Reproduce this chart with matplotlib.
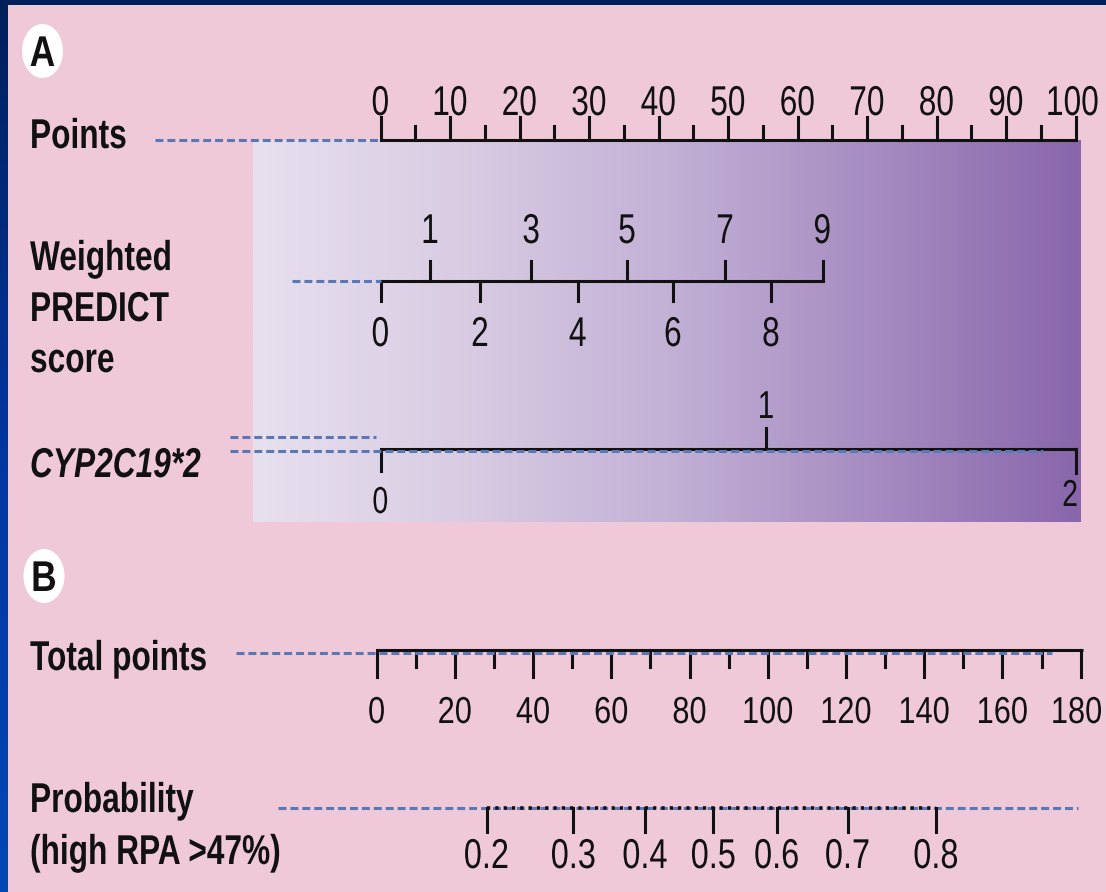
import numpy as np
import matplotlib
matplotlib.use("Agg")
import matplotlib.pyplot as plt
from matplotlib.patches import Ellipse, Rectangle
from matplotlib.colors import LinearSegmentedColormap
from matplotlib.patheffects import AbstractPathEffect
from matplotlib.transforms import Affine2D

# ---- nomogram data ----
points_ticks = list(range(0, 101, 10))
points_minor = list(range(5, 100, 10))

predict_scores = [0, 1, 2, 3, 4, 5, 6, 7, 8, 9]
predict_points = [0.0, 7.15, 14.35, 21.7, 28.4, 35.5, 42.1, 49.6, 56.2, 63.6]

cyp_values = [0, 1, 2]
cyp_points = [0.0, 55.5, 100.0]

total_ticks = list(range(0, 181, 20))
total_minor = list(range(10, 180, 20))

prob_values = [0.2, 0.3, 0.4, 0.5, 0.6, 0.7, 0.8]
prob_total_points = [28.1, 50.3, 68.6, 86.1, 102.3, 120.4, 143.0]

# ---- layout (canvas pixel space) ----
W, H = 1106, 892
PX0, PX1 = 380.5, 1075.5      # Points scale 0..100
TX0, TX1 = 376.7, 1080.7      # Total points scale 0..180


def px(p):
    return PX0 + np.asarray(p, dtype=float) * (PX1 - PX0) / 100.0


def tx(t):
    return TX0 + np.asarray(t, dtype=float) * (TX1 - TX0) / 180.0


PINK = "#EFC9D7"
BLUE = "#5B78B6"
INK = "#111111"
FAMILY = ["Liberation Sans", "DejaVu Sans"]
LW = 2.2
DASH = (0, (2.6, 1.3))


class Condense(AbstractPathEffect):
    """Draw glyphs narrowed horizontally, keeping the chosen anchor fixed."""

    def __init__(self, sx=0.76, anchor="center"):
        super().__init__()
        self.sx = sx
        self.anchor = anchor

    def draw_path(self, renderer, gc, tpath, affine, rgbFace=None):
        v = tpath.vertices
        if len(v) and self.anchor != "left":
            lo, hi = v[:, 0].min(), v[:, 0].max()
            pivot = hi if self.anchor == "right" else 0.5 * (lo + hi)
        else:
            pivot = 0.0
        squeeze = Affine2D().translate(-pivot, 0).scale(self.sx, 1).translate(pivot, 0)
        renderer.draw_path(gc, tpath, squeeze + affine, rgbFace)


fig = plt.figure(figsize=(W / 100, H / 100), dpi=100)
fig.patch.set_facecolor(PINK)
ax = fig.add_axes([0, 0, 1, 1])
ax.set_xlim(0, W)
ax.set_ylim(H, 0)
ax.axis("off")

# frame: dark band on top, blue gradient band on the left
ax.add_patch(Rectangle((0, 0), W, 5, color="#00205B", lw=0, zorder=1))
left_band = np.linspace(0, 1, 256).reshape(-1, 1)
band_cmap = LinearSegmentedColormap.from_list("band", ["#00205B", "#0036A0", "#0048B5"])
ax.imshow(left_band, cmap=band_cmap, extent=(0, 8, H, 0), aspect="auto", zorder=1)

# gradient panel behind the predictor scales
grad = np.linspace(0, 1, 512).reshape(1, -1)
panel_cmap = LinearSegmentedColormap.from_list(
    "panel", ["#E7E0EE", "#D9CCE3", "#C3B1D6", "#A68CC1", "#8966AB"])
ax.imshow(grad, cmap=panel_cmap, extent=(253, 1081, 522, 140), aspect="auto", zorder=1)


def panel_badge(cx, cy, letter):
    ax.add_patch(Ellipse((cx, cy), 41, 54, facecolor="white", edgecolor="none", zorder=2))
    ax.text(cx, cy + 15, letter, fontsize=31, fontweight="bold", family=FAMILY,
            ha="center", va="baseline", color=INK, zorder=3,
            path_effects=[Condense(0.82, "center")])


panel_badge(42.5, 51, "A")
panel_badge(44, 576, "B")


def row_label(x, y, s, **kw):
    ax.text(x, y, s, fontsize=30, fontweight="bold", family=FAMILY,
            ha="left", va="baseline", color=INK, zorder=3,
            path_effects=[Condense(0.76, "left")], **kw)


def tick_label(x, y, s, size=30, ha="center", sx=0.76):
    ax.text(x, y, s, fontsize=size, family=FAMILY, ha=ha, va="baseline",
            color=INK, zorder=3, path_effects=[Condense(sx, ha)])


def seg(x0, x1, y, **kw):
    ax.plot([x0, x1], [y, y], solid_capstyle="butt", **kw)


# ---- Points ----
y = 140
row_label(30, 148, "Points")
seg(155, PX0, y, color=BLUE, lw=LW, ls=DASH, zorder=4)
seg(px(0), px(100) + 1, y, color=INK, lw=LW, zorder=3)
for v in points_ticks:
    ax.plot([px(v)] * 2, [y, y - 23], color=INK, lw=LW, zorder=3)
    tick_label(px(v) - (3 if v == 100 else 0), 115, str(v))
for v in points_minor:
    ax.plot([px(v)] * 2, [y, y - 14], color=INK, lw=LW, zorder=3)

# ---- Weighted PREDICT score ----
y = 281
row_label(30, 270, "Weighted")
row_label(30, 321, "PREDICT")
row_label(30, 372, "score")
seg(292, px(0), y, color=BLUE, lw=LW, ls=DASH, zorder=4)
xs = px(predict_points)
seg(xs[0], xs[-1], y, color=INK, lw=LW, zorder=3)
for s, xv in zip(predict_scores, xs):
    if s % 2:
        ax.plot([xv, xv], [y, y - 20], color=INK, lw=LW, zorder=3)
        tick_label(xv, 243, str(s))
    else:
        ax.plot([xv, xv], [y, y + 20], color=INK, lw=LW, zorder=3)
        tick_label(xv, 346, str(s))

# ---- CYP2C19*2 ----
y = 449
row_label(30, 477, "CYP2C19*2", style="italic")
xs = px(cyp_points)
seg(230, 376, 437, color=BLUE, lw=LW, ls=DASH, zorder=4)
seg(xs[0], xs[-1], y, color=INK, lw=LW, zorder=3)
seg(230, 1043, y + 1.5, color=BLUE, lw=LW, ls=DASH, zorder=4)
ax.plot([xs[0]] * 2, [y, y + 22], color=INK, lw=LW, zorder=3)
ax.plot([xs[1]] * 2, [y, y - 21], color=INK, lw=LW, zorder=3)
ax.plot([xs[2]] * 2, [y, y + 24], color=INK, lw=LW, zorder=3)
tick_label(xs[0], 513, str(cyp_values[0]), size=27)
tick_label(xs[1], 418, str(cyp_values[1]), size=28)
tick_label(xs[2] + 3, 506, str(cyp_values[2]), size=27, ha="right")

# ---- Total points ----
y = 650
row_label(30, 670, "Total points")
seg(tx(0), tx(180) + 2, y, color=INK, lw=LW, zorder=3)
seg(236, 1052, y + 3, color=BLUE, lw=LW, ls=DASH, zorder=4)
for v in total_ticks:
    ax.plot([tx(v)] * 2, [y, y + 27], color=INK, lw=LW, zorder=3)
    tick_label(tx(v) - (4 if v == 180 else 0), 723, str(v), size=27, sx=0.82)
for v in total_minor:
    ax.plot([tx(v)] * 2, [y, y + 17], color=INK, lw=LW, zorder=3)

# ---- Probability ----
y = 808
row_label(30, 812, "Probability")
row_label(30, 864, "(high RPA >47%)")
seg(278, 1078, y, color=BLUE, lw=LW, ls=DASH, zorder=3)
xs = tx(prob_total_points)
seg(xs[0], xs[-1], y, color=INK, lw=2.6, ls=(0, (0.9, 1.4)), zorder=4)
for v, xv in zip(prob_values, xs):
    ax.plot([xv, xv], [y, y + 24], color=INK, lw=LW, zorder=4)
    tick_label(xv, 868, f"{v:.1f}", sx=0.78)

fig.savefig("out.png", dpi=100, facecolor=PINK)
